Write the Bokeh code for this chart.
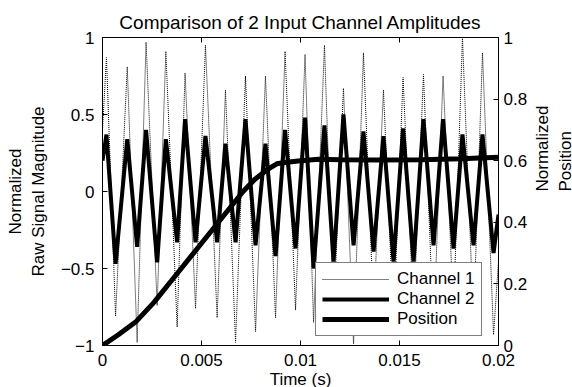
import math
from bokeh.plotting import figure
from bokeh.models import Range1d, LinearAxis, FixedTicker
from bokeh.embed import file_html
from bokeh.resources import INLINE

# ---- data ----
# times (s) of the local maxima / minima of the two input channels
peak_t = [0.0002, 0.00125, 0.0022, 0.0032, 0.00417, 0.0052, 0.00621, 0.00722, 0.00823, 0.00922,
          0.01023, 0.01121, 0.01217, 0.01318, 0.01419, 0.01518, 0.01621, 0.0172, 0.01818, 0.01919]
trough_t = [0.00066, 0.00175, 0.00276, 0.00377, 0.0047, 0.00579, 0.00672, 0.00773, 0.00874, 0.00975,
            0.01066, 0.01167, 0.01268, 0.01369, 0.0147, 0.01571, 0.01672, 0.01773, 0.01874, 0.01975]
ch1_peaks = [0.87, 0.81, 0.97, 0.91, 0.77, 0.95, 0.66, 0.75, 0.75, 0.91,
             0.89, 0.95, 0.67, 0.90, 0.66, 0.74, 0.76, 0.75, 1.0, 0.90]
ch1_troughs = [-0.81, -0.98, -0.74, -0.88, -0.76, -0.82, -0.98, -0.91, -0.82, -0.77,
               -0.85, -0.80, -0.99, -0.78, -0.86, -0.80, -0.90, -0.78, -0.85, -0.93]
ch2_peaks = [0.37, 0.34, 0.40, 0.34, 0.47, 0.36, 0.31, 0.47, 0.31, 0.40,
             0.48, 0.43, 0.50, 0.39, 0.36, 0.41, 0.47, 0.47, 0.37, 0.37]
ch2_troughs = [-0.47, -0.36, -0.46, -0.33, -0.33, -0.33, -0.33, -0.35, -0.42, -0.37,
               -0.50, -0.455, -0.35, -0.39, -0.455, -0.455, -0.35, -0.37, -0.35, -0.40]
edge_t = [0.0, 0.02]
ch1_edges = [0.4, -0.45]
ch2_edges = [0.2, -0.15]

pos_t = [0.0, 0.0008, 0.00167, 0.0026, 0.0036, 0.0056, 0.0071, 0.0077, 0.0083, 0.0088,
         0.0093, 0.0100, 0.0109, 0.0120, 0.0140, 0.0161, 0.0181, 0.0200]
pos_v = [0.0, 0.035, 0.076, 0.14, 0.22, 0.38, 0.50, 0.54, 0.57, 0.59,
         0.595, 0.60, 0.605, 0.603, 0.602, 0.603, 0.606, 0.611]

x_ticks = [0, 0.005, 0.01, 0.015, 0.02]
x_tick_labels = ["0", "0.005", "0.01", "0.015", "0.02"]
y_ticks = [-1, -0.5, 0, 0.5, 1]
y_tick_labels = ["\u22121", "\u22120.5", "0", "0.5", "1"]
pos_ticks = [0, 0.2, 0.4, 0.6, 0.8, 1]
pos_tick_labels = ["0", "0.2", "0.4", "0.6", "0.8", "1"]

title_text = "Comparison of 2 Input Channel Amplitudes"
x_label = "Time (s)"
y_label = "Normalized\nRaw Signal Magnitude"
y2_label = "Normalized\nPosition"
series_names = ["Channel 1", "Channel 2", "Position"]

# ---- build the series ----
def merge(start, peaks_v, troughs_v, end):
    t = [edge_t[0]]
    v = [start]
    for i in range(len(peak_t)):
        t += [peak_t[i], trough_t[i]]
        v += [peaks_v[i], troughs_v[i]]
    t.append(edge_t[1])
    v.append(end)
    return t, v

t1, v1 = merge(ch1_edges[0], ch1_peaks, ch1_troughs, ch1_edges[1])
t2, v2 = merge(ch2_edges[0], ch2_peaks, ch2_troughs, ch2_edges[1])

FONT = "Liberation Sans"
FS = "17px"

p = figure(frame_width=396, frame_height=308, x_range=Range1d(0, 0.02), y_range=Range1d(-1, 1),
           output_backend="svg", toolbar_location=None,
           min_border_left=102, min_border_right=74, min_border_top=37, min_border_bottom=42,
           title=title_text)
p.extra_y_ranges = {"pos": Range1d(0, 1)}
p.xgrid.visible = False
p.ygrid.visible = False
p.outline_line_color = "black"
p.outline_line_width = 1
p.background_fill_color = "white"
p.border_fill_color = "white"

p.title.align = "center"
p.title.text_font = FONT
p.title.text_font_size = "19px"
p.title.text_font_style = "normal"
p.title.text_color = "black"
p.title.standoff = 9

def style(ax):
    ax.major_tick_in = 5
    ax.major_tick_out = 0
    ax.minor_tick_line_color = None
    ax.axis_line_color = "black"
    ax.major_tick_line_color = "black"
    ax.major_label_text_font = FONT
    ax.major_label_text_font_size = FS
    ax.major_label_text_color = "black"
    ax.axis_label_text_font = FONT
    ax.axis_label_text_font_size = FS
    ax.axis_label_text_font_style = "normal"
    ax.axis_label_text_color = "black"

xa = p.xaxis[0]
xa.ticker = FixedTicker(ticks=x_ticks)
xa.major_label_overrides = dict(zip(x_ticks, x_tick_labels))
style(xa)
xa.major_label_standoff = 8
xa.axis_label = x_label
xa.axis_label_standoff = 1

ya = p.yaxis[0]
ya.ticker = FixedTicker(ticks=y_ticks)
ya.major_label_overrides = dict(zip(y_ticks, y_tick_labels))
style(ya)
ya.major_label_standoff = 8
ya.axis_label = y_label
ya.axis_label_standoff = 10

ra = LinearAxis(y_range_name="pos", ticker=FixedTicker(ticks=pos_ticks))
ra.major_label_overrides = dict(zip(pos_ticks, pos_tick_labels))
style(ra)
ra.major_label_standoff = 5
ra.axis_label = y2_label
ra.axis_label_standoff = 24
if "axis_label_orientation" in ra.properties():
    ra.axis_label_orientation = math.pi / 2
p.add_layout(ra, "right")

# inward tick marks on the top edge of the box
p.ray(x=x_ticks, y=[y_ticks[-1]] * len(x_ticks), length=5, length_units="screen",
      angle=-90, angle_units="deg", line_color="black", line_width=1)

p.line(t1, v1, line_color="black", line_width=1, line_dash="1 1", legend_label=series_names[0])
p.line(t2, v2, line_color="black", line_width=4, legend_label=series_names[1])
p.line(pos_t, pos_v, line_color="black", line_width=5, y_range_name="pos", legend_label=series_names[2])

lg = p.legend[0]
lg.location = (213, 9)
lg.border_line_color = "black"
lg.border_line_width = 1
lg.background_fill_color = "white"
lg.background_fill_alpha = 1
lg.label_text_font = FONT
lg.label_text_font_size = FS
lg.label_text_color = "black"
lg.padding = 6
lg.spacing = 0
lg.margin = 0
lg.glyph_width = 67
lg.glyph_height = 20
lg.label_height = 20
lg.label_standoff = 8

open("out.html", "w").write(file_html(p, INLINE))
